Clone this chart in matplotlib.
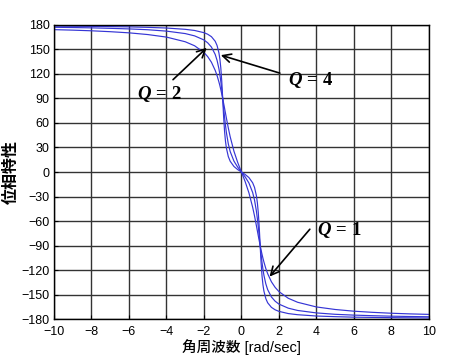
import matplotlib
matplotlib.use("Agg")
import matplotlib.pyplot as plt
import numpy as np

plt.rcParams['font.family'] = ['Liberation Sans', 'Noto Sans CJK JP', 'DejaVu Sans']
plt.rcParams['mathtext.fontset'] = 'custom'
plt.rcParams['mathtext.it'] = 'Liberation Serif:italic:bold'
plt.rcParams['mathtext.rm'] = 'Liberation Serif:bold'

# angular frequency (positive half)
w_pos = [0.0, 0.2, 0.4, 0.6, 0.7, 0.8, 0.85, 0.9, 0.95, 0.975, 1.0, 1.025, 1.05, 1.1,
         1.15, 1.2, 1.3, 1.4, 1.6, 1.8, 2.0, 2.5, 3.0, 4.0, 5.0, 6.0, 7.0, 8.0, 9.0, 10.0]

# phase [deg] at w_pos for each Q
phase_q1 = [0.0, -11.8, -25.5, -43.2, -53.9, -65.8, -71.9, -78.1, -84.1, -87.1, -90.0,
            -92.8, -95.6, -100.8, -105.7, -110.1, -118.0, -124.4, -134.3, -141.2, -146.3,
            -154.5, -159.4, -165.1, -168.2, -170.3, -171.7, -172.8, -173.6, -174.2]
phase_q2 = [0.0, -6.0, -13.4, -25.1, -34.5, -48.0, -56.9, -67.1, -78.4, -84.2, -90.0,
            -95.6, -101.1, -110.9, -119.3, -126.3, -136.7, -143.9, -152.9, -158.1, -161.6,
            -166.6, -169.4, -172.4, -174.1, -175.1, -175.8, -176.4, -176.8, -177.1]
phase_q4 = [0.0, -3.0, -6.8, -13.2, -18.9, -29.1, -37.5, -49.8, -67.7, -78.6, -90.0,
            -101.2, -111.3, -127.4, -138.3, -145.7, -154.8, -160.0, -165.6, -168.6, -170.5,
            -173.2, -174.6, -176.2, -177.0, -177.6, -177.9, -178.2, -178.4, -178.6]

w = np.concatenate([-np.array(w_pos[:0:-1]), w_pos])


def full(p):
    p = np.array(p)
    return np.concatenate([-p[:0:-1], p])


fig = plt.figure(figsize=(4.5, 3.61), dpi=100)
ax = fig.add_axes([0.12, 0.116, 0.833, 0.815])

for p in (phase_q1, phase_q2, phase_q4):
    ax.plot(w, full(p), color='#3535d5', lw=0.85)

ax.set_xlim(-10, 10)
ax.set_ylim(-180, 180)
ax.set_xticks(np.arange(-10, 11, 2))
ax.set_yticks(np.arange(-180, 181, 30))
ax.grid(True, color='#333333', lw=1.0)
ax.tick_params(direction='in', labelsize=9, length=3)
ax.tick_params(axis='x', pad=5)
ax.tick_params(axis='y', pad=3)
for s in ax.spines.values():
    s.set_color('black')
    s.set_linewidth(1.0)

ax.set_xlabel('角周波数 [rad/sec]', fontsize=10.5, labelpad=1, weight='medium')
ax.set_ylabel('位相特性', fontsize=11.5, labelpad=2, weight='bold')

arrow = dict(arrowstyle='->', color='black', lw=1.2, mutation_scale=15,
             shrinkA=0, shrinkB=0)
# arrows: (tip, start)
ax.annotate('', xy=(-1.85, 152), xytext=(-3.65, 113), arrowprops=arrow)
ax.annotate('', xy=(-1.1, 143), xytext=(2.05, 121), arrowprops=arrow)
ax.annotate('', xy=(1.5, -128), xytext=(3.65, -70), arrowprops=arrow)

ax.text(-4.35, 96, '$Q\\,=\\,2$', fontsize=13.5, ha='center', va='center')
ax.text(3.7, 112, '$Q\\,=\\,4$', fontsize=13.5, ha='center', va='center')
ax.text(5.25, -71, '$Q\\,=\\,1$', fontsize=13.5, ha='center', va='center')

fig.savefig('out.png', dpi=100)
